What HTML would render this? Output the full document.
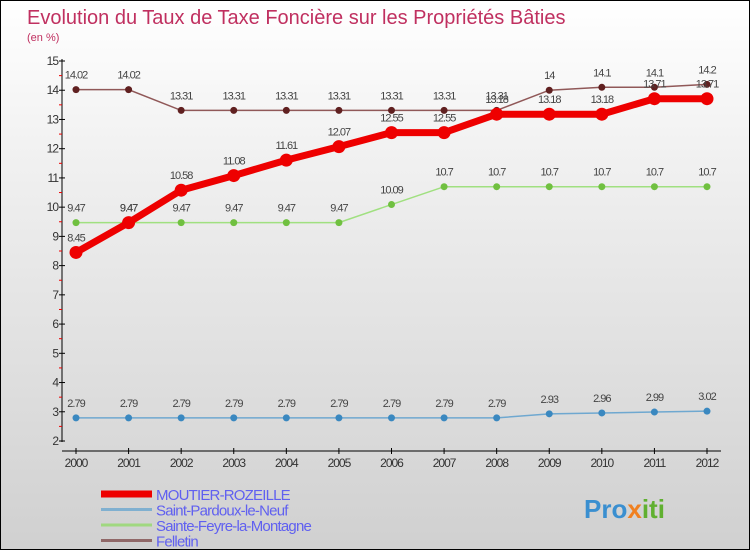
<!DOCTYPE html>
<html><head><meta charset="utf-8"><style>
body{margin:0}
#c{width:750px;height:550px;position:relative;box-sizing:border-box;border:1px solid #000;background:linear-gradient(#fff 0%,#f0f0f0 30%,#d0d0d0 100%);font-family:"Liberation Sans",sans-serif;overflow:hidden}
text{font-family:"Liberation Sans",sans-serif}
</style></head><body>
<div id="c">
<svg id="s" width="750" height="550">
<text x="26" y="23" font-size="20" fill="#c03060">Evolution du Taux de Taxe Foncière sur les Propriétés Bâties</text>
<text x="26" y="40" font-size="11" fill="#c03060">(en %)</text>
<text x="583" y="517" font-size="26" font-weight="bold" fill="#3a8fd0">Pro<tspan fill="#f08020">x</tspan><tspan fill="#60b030">iti</tspan></text>
</svg>
</div>
<script>
const years=[2000,2001,2002,2003,2004,2005,2006,2007,2008,2009,2010,2011,2012];
const yTicks=[2,3,4,5,6,7,8,9,10,11,12,13,14,15];
const moutier=[8.45,9.47,10.58,11.08,11.61,12.07,12.55,12.55,13.18,13.18,13.18,13.71,13.71];
const pardoux=[2.79,2.79,2.79,2.79,2.79,2.79,2.79,2.79,2.79,2.93,2.96,2.99,3.02];
const feyre=[9.47,9.47,9.47,9.47,9.47,9.47,10.09,10.7,10.7,10.7,10.7,10.7,10.7];
const felletin=[14.02,14.02,13.31,13.31,13.31,13.31,13.31,13.31,13.31,14,14.1,14.1,14.2];
const names=["MOUTIER-ROZEILLE","Saint-Pardoux-le-Neuf","Sainte-Feyre-la-Montagne","Felletin"];
const NS="http://www.w3.org/2000/svg",svg=document.getElementById('s');
const X=i=>75+i*(706-75)/(years.length-1);
const Y=v=>440-(v-2)*(380/13);
function mk(t,a,p){const e=document.createElementNS(NS,t);for(const k in a)e.setAttribute(k,a[k]);(p||svg).appendChild(e);return e;}
let e=mk('line',{x1:61,y1:58,x2:61,y2:441,stroke:'#000'});


e=mk('line',{x1:61,y1:450,x2:720,y2:450,stroke:'#000'});


yTicks.forEach(v=>{mk('line',{x1:58,y1:Y(v),x2:64,y2:Y(v),stroke:'#000'});
 if(v<15)mk('line',{x1:58,y1:Y(v+0.5),x2:61,y2:Y(v+0.5),stroke:'#e00'});
 e=mk('text',{x:57,y:Y(v)+4,'font-size':12,'text-anchor':'end',fill:'#333','letter-spacing':'-1'});e.textContent=v;
 
 });
years.forEach((y,i)=>{mk('line',{x1:X(i),y1:447,x2:X(i),y2:453,stroke:'#000'});
 e=mk('text',{x:X(i),y:466,'font-size':12,'text-anchor':'middle',fill:'#333','letter-spacing':'-1'});e.textContent=y;
 
 });
function series(d,col,w,r,name,dot){
 const g=mk('g',{});
 
 
 mk('polyline',{points:d.map((v,i)=>X(i)+','+Y(v)).join(' '),fill:'none',stroke:col,'stroke-width':w},g);
 d.forEach((v,i)=>{const c=mk('circle',{cx:X(i),cy:Y(v),r:r,fill:dot},g);
  
  
  const t=mk('text',{x:X(i),y:Y(v)-11,'font-size':11,'text-anchor':'middle',fill:'#444','letter-spacing':'-1'},g);t.textContent=v;
  
  });
}
series(pardoux,'#6fa8d0',1.5,3.5,'series-saint-pardoux','#3a88c0');
series(feyre,'#a0e080',1.5,3.5,'series-sainte-feyre','#70c040');
series(felletin,'#905858',1.5,3.5,'series-felletin','#602020');
series(moutier,'#ee0000',7,6.5,'series-moutier','#ee0000');
const lc=['#ee0000','#80b0d0','#a0d880','#906868'],lw=[7,3,3,3];
names.forEach((n,i)=>{const y=493+i*15.5;
 e=mk('line',{x1:100,y1:y,x2:151,y2:y,stroke:lc[i],'stroke-width':lw[i]});
 
 
 e=mk('text',{x:155,y:y+6,'font-size':15,fill:'#6060f0','letter-spacing':'-0.8'});e.textContent=n;
 
 });
</script>
</body></html>
